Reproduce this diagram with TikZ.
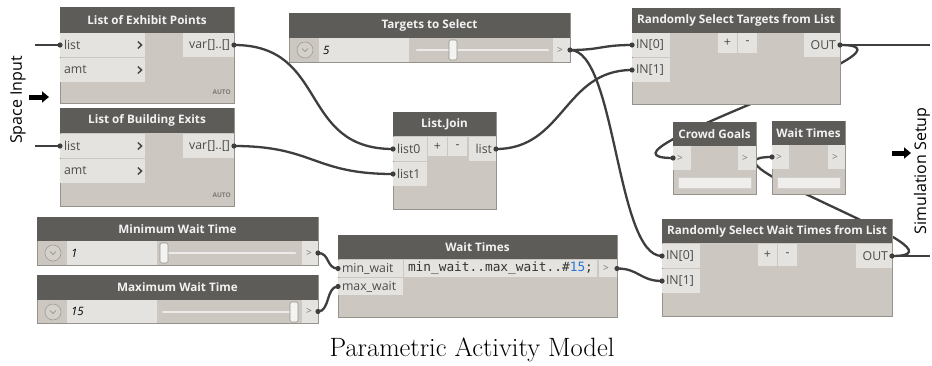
\documentclass[tikz,border=0pt]{standalone}
\usepackage{fontspec}
\newfontfamily\osans{Open Sans}
\newfontfamily\dmono{DejaVu Sans Mono}
\usetikzlibrary{backgrounds,arrows.meta}
\definecolor{headc}{RGB}{94,92,89}
\definecolor{bodyc}{RGB}{204,200,193}
\definecolor{portc}{RGB}{229,227,223}
\definecolor{bordc}{RGB}{150,147,141}
\definecolor{wirec}{RGB}{62,62,62}
\definecolor{headt}{RGB}{242,242,242}
\definecolor{portt}{RGB}{75,75,75}
\definecolor{numc}{RGB}{40,120,215}
\definecolor{trackc}{RGB}{236,235,233}
\definecolor{handc}{RGB}{243,243,242}
\definecolor{handb}{RGB}{150,147,141}
\definecolor{ddc}{RGB}{212,209,203}
\definecolor{ddb}{RGB}{160,157,151}
\definecolor{autoc}{RGB}{125,122,117}
\definecolor{gtc}{RGB}{120,120,120}
\newcommand\titlef{\osans\bfseries\fontsize{11.7}{13}\selectfont}
\newcommand\portf{\osans\fontsize{12.3}{14}\selectfont}
\newcommand\chev[2]{\draw[portt,line width=1.5] (#1,#2) ++(-2.2,-3.5) -- ++(3.8,3.5) -- ++(-3.8,3.5);}
\newcommand\ddown[2]{\draw[fill=ddc,draw=ddb,line width=0.6] (#1,#2) circle[radius=8];
  \draw[ddb,line width=0.9] (#1,#2) ++(-3,-1.5) -- ++(3,3) -- ++(3,-3);}
\newcommand\slider[4]{\draw[line width=2.6,draw=trackc,line cap=round] (#1,#3) -- (#2,#3);
  \draw[fill=handc,draw=handb,rounded corners=1.5,line width=0.6] (#4-4,#3-10) rectangle (#4+4,#3+10);}
\begin{document}
\begin{tikzpicture}[x=1pt,y=-1pt,
 bodybox/.style={draw=bordc,fill=bodyc,line width=0.8,anchor=north west,inner sep=0,outer sep=0},
 headbox/.style={fill=headc,anchor=north west,inner sep=0,outer sep=0,text=headt,font=\titlef},
 pin/.style={fill=portc,anchor=north west,inner xsep=4,inner ysep=0,outer sep=0,align=left,font=\portf,text=portt},
 pout/.style={pin,align=right},
 pbtn/.style={fill=portc,anchor=north west,inner sep=0,outer sep=0,font=\portf,text=portt},
 pgt/.style={pin,text=gtc,font=\osans\fontsize{10}{12}\selectfont},
 valbox/.style={pin,font=\osans\itshape\fontsize{11.5}{13}\selectfont,text=black},
 barbox/.style={fill=portc!60!white,draw=portc!80!gray,line width=0.5,anchor=north west,inner sep=0,outer sep=0},
 autost/.style={font=\osans\bfseries\fontsize{6.5}{8}\selectfont,text=autoc,anchor=east,inner sep=0},
 wire/.style={draw=wirec,line width=2.3},
 knob/.style={fill=wirec},
 side/.style={rotate=90,font=\osans\fontsize{16}{18}\selectfont,inner sep=0},
 bigarrow/.style={line width=5,-{Triangle[length=7,width=11]}},
]
\useasboundingbox (0,0) rectangle (932,365);

% ---------- List of Exhibit Points
\node[bodybox,minimum width=174,minimum height=96] (ex) at (60,7) {};
\node[headbox,minimum width=174,minimum height=26] (exh) at (60,7) {List of Exhibit Points};
\node[pin,minimum height=24,text width=77] (exlist) at (60,33) {list};
\node[pin,minimum height=24,text width=77] (examt) at (60,58) {amt};
\node[pout,minimum height=24,text width=43] (exvar) at (183,33) {var[]..[]};
\chev{140}{45}\chev{140}{70}
\node[autost] (exauto) at (231,92) {AUTO};

% ---------- List of Building Exits
\node[bodybox,minimum width=174,minimum height=98] (be) at (60,108) {};
\node[headbox,minimum width=174,minimum height=25] (beh) at (60,108) {List of Building Exits};
\node[pin,minimum height=24,text width=77] (belist) at (60,134) {list};
\node[pin,minimum height=24,text width=77] (beamt) at (60,159) {amt};
\node[pout,minimum height=24,text width=43] (bevar) at (183,134) {var[]..[]};
\chev{140}{146}\chev{140}{171}
\node[autost] (beauto) at (231,195) {AUTO};

% ---------- Targets to Select
\node[bodybox,minimum width=281,minimum height=49] (ts) at (289,13) {};
\node[headbox,minimum width=281,minimum height=25] (tsh) at (289,13) {Targets to Select};
\ddown{305}{50}
\node[valbox,minimum height=24,text width=82] (tsval) at (319,38) {5};
\slider{417}{548}{50}{453}
\node[pgt,minimum height=24,text width=9] (tsout) at (553,38) {>};

% ---------- Randomly Select Targets from List
\node[bodybox,minimum width=208,minimum height=96] (rst) at (632,8) {};
\node[headbox,minimum width=208,minimum height=25] (rsth) at (632,8) {Randomly Select Targets from List};
\node[pin,minimum height=24,text width=30] (rst0) at (632,33) {IN[0]};
\node[pin,minimum height=24,text width=30] (rst1) at (632,58) {IN[1]};
\node[pbtn,minimum width=19,minimum height=20] (rstp) at (718,33) {+};
\node[pbtn,minimum width=19,minimum height=20] (rstm) at (738,33) {-};
\node[pout,minimum height=24,text width=28] (rstout) at (804,33) {OUT};

% ---------- List.Join
\node[bodybox,minimum width=103,minimum height=97] (lj) at (393,112) {};
\node[headbox,minimum width=103,minimum height=24] (ljh) at (393,112) {List.Join};
\node[pin,minimum height=24,text width=26] (lj0) at (393,137) {list0};
\node[pin,minimum height=24,text width=26] (lj1) at (393,162) {list1};
\node[pbtn,minimum width=19,minimum height=19] (ljp) at (428,137) {+};
\node[pbtn,minimum width=19,minimum height=19] (ljm) at (448,137) {-};
\node[pout,minimum height=24,text width=19] (ljout) at (469,137) {list};

% ---------- Crowd Goals
\node[bodybox,minimum width=83,minimum height=72] (cg) at (673,122) {};
\node[headbox,minimum width=83,minimum height=24] (cgh) at (673,122) {Crowd Goals};
\node[pgt,minimum height=24,text width=10] (cgin) at (673,146) {>};
\node[pgt,minimum height=24,text width=10] (cgout) at (738,146) {>};
\node[barbox,minimum width=73,minimum height=11] (cgbar) at (678,177) {};

% ---------- Wait Times (watch)
\node[bodybox,minimum width=73,minimum height=73] (wt) at (772,121) {};
\node[headbox,minimum width=73,minimum height=24] (wth) at (772,121) {Wait Times};
\node[pgt,minimum height=24,text width=9] (wtin) at (772,145) {>};
\node[pgt,minimum height=24,text width=9] (wtout) at (828,145) {>};
\node[barbox,minimum width=63,minimum height=11] (wtbar) at (777,177) {};

% ---------- Minimum Wait Time
\node[bodybox,minimum width=281,minimum height=48] (mn) at (37,217) {};
\node[headbox,minimum width=281,minimum height=24] (mnh) at (37,217) {Minimum Wait Time};
\ddown{53}{253}
\node[valbox,minimum height=24,text width=82] (mnval) at (67,241) {1};
\slider{163}{295}{253}{164}
\node[pgt,minimum height=24,text width=8] (minout) at (302,241) {>};

% ---------- Maximum Wait Time
\node[bodybox,minimum width=281,minimum height=48] (mx) at (37,275) {};
\node[headbox,minimum width=281,minimum height=25] (mxh) at (37,275) {Maximum Wait Time};
\ddown{53}{312}
\node[valbox,minimum height=23,text width=82] (mxval) at (67,300) {15};
\slider{163}{295}{312}{294}
\node[pgt,minimum height=23,text width=8] (maxout) at (302,300) {>};

% ---------- Wait Times (code block)
\node[bodybox,minimum width=279,minimum height=82] (wc) at (338,235) {};
\node[headbox,minimum width=279,minimum height=24] (wch) at (338,235) {Wait Times};
\node[pin,minimum height=17,text width=57] (wcmin) at (338,260) {min\_wait};
\node[pin,minimum height=17,text width=57] (wcmax) at (338,278) {max\_wait};
\node[pin,minimum height=17,text width=185,font=\dmono\fontsize{12.8}{14}\selectfont,text=black!80] (wccode) at (404,260) {min\_wait..max\_wait..\#\textcolor{numc}{15};};
\node[pgt,minimum height=17,text width=10] (wcout) at (599,260) {>};

% ---------- Randomly Select Wait Times from List
\node[bodybox,minimum width=230,minimum height=97] (rsw) at (662,219) {};
\node[headbox,minimum width=230,minimum height=24] (rswh) at (662,219) {Randomly Select Wait Times from List};
\node[pin,minimum height=24,text width=30] (rsw0) at (662,244) {IN[0]};
\node[pin,minimum height=24,text width=30] (rsw1) at (662,269) {IN[1]};
\node[pbtn,minimum width=19,minimum height=22] (rswp) at (758,244) {+};
\node[pbtn,minimum width=19,minimum height=22] (rswm) at (778,244) {-};
\node[pout,minimum height=24,text width=28] (rswout) at (856,244) {OUT};

% ---------- free wire ends
\coordinate (exin) at (35,45);
\coordinate (bein) at (35,146);
\coordinate (rstend) at (930,45);
\coordinate (rswend) at (930,256);

% ---------- wires (behind the nodes)
\begin{scope}[on background layer]
\fill[white] (0,0) rectangle (932,365);
\draw[wire] (exin) -- (exlist.west);
\draw[wire] (bein) -- (belist.west);
\draw[wire] (exvar.east) .. controls +(95,0) and +(-95,0) .. (lj0.west);
\draw[wire] (bevar.east) .. controls +(80,0) and +(-80,0) .. (lj1.west);
\draw[wire] (ljout.east) .. controls +(68,0) and +(-68,0) .. (rst1.west);
\draw[wire] (tsout.east) .. controls +(31,0) and +(-31,0) .. (rst0.west);
\draw[wire] (tsout.east) .. controls +(46,0) and +(-46,0) .. (rsw0.west);
\draw[wire] (rstout.east) -- (rstend);
\draw[wire] (rstout.east) .. controls +(100,0) and +(-100,0) .. (cgin.west);
\draw[wire] (rswout.east) -- (rswend);
\draw[wire] (rswout.east) .. controls +(90,0) and +(-90,0) .. (wtin.west);
\draw[wire] (minout.east) .. controls +(12,0) and +(-12,0) .. (wcmin.west);
\draw[wire] (maxout.east) .. controls +(12,0) and +(-12,0) .. (wcmax.west);
\draw[wire] (wcout.east) .. controls +(22,0) and +(-22,0) .. (rsw1.west);
\end{scope}

% ---------- knobs
\foreach \p in {exlist.west,belist.west,exvar.east,bevar.east,lj0.west,lj1.west,ljout.east,tsout.east,rst0.west,rst1.west,rstout.east,cgin.west,wtin.west,rswout.east,rsw0.west,rsw1.west,minout.east,maxout.east,wcmin.west,wcmax.west,wcout.east}
  \fill[knob] (\p) circle[radius=2.6];

% ---------- side labels
\node[side] (spacein) at (18,100) {Space Input};
\coordinate (sa1) at (29,97);
\coordinate (sa2) at (49,97);
\draw[bigarrow] (sa1) -- (sa2);
\node[side] (simset) at (922,171) {Simulation Setup};
\coordinate (sb1) at (892,153);
\coordinate (sb2) at (911,153);
\draw[bigarrow] (sb1) -- (sb2);

% ---------- caption
\node[font=\fontsize{26.5}{30}\selectfont,inner sep=0] (cap) at (472,350) {Parametric Activity Model};
\end{tikzpicture}
\end{document}
